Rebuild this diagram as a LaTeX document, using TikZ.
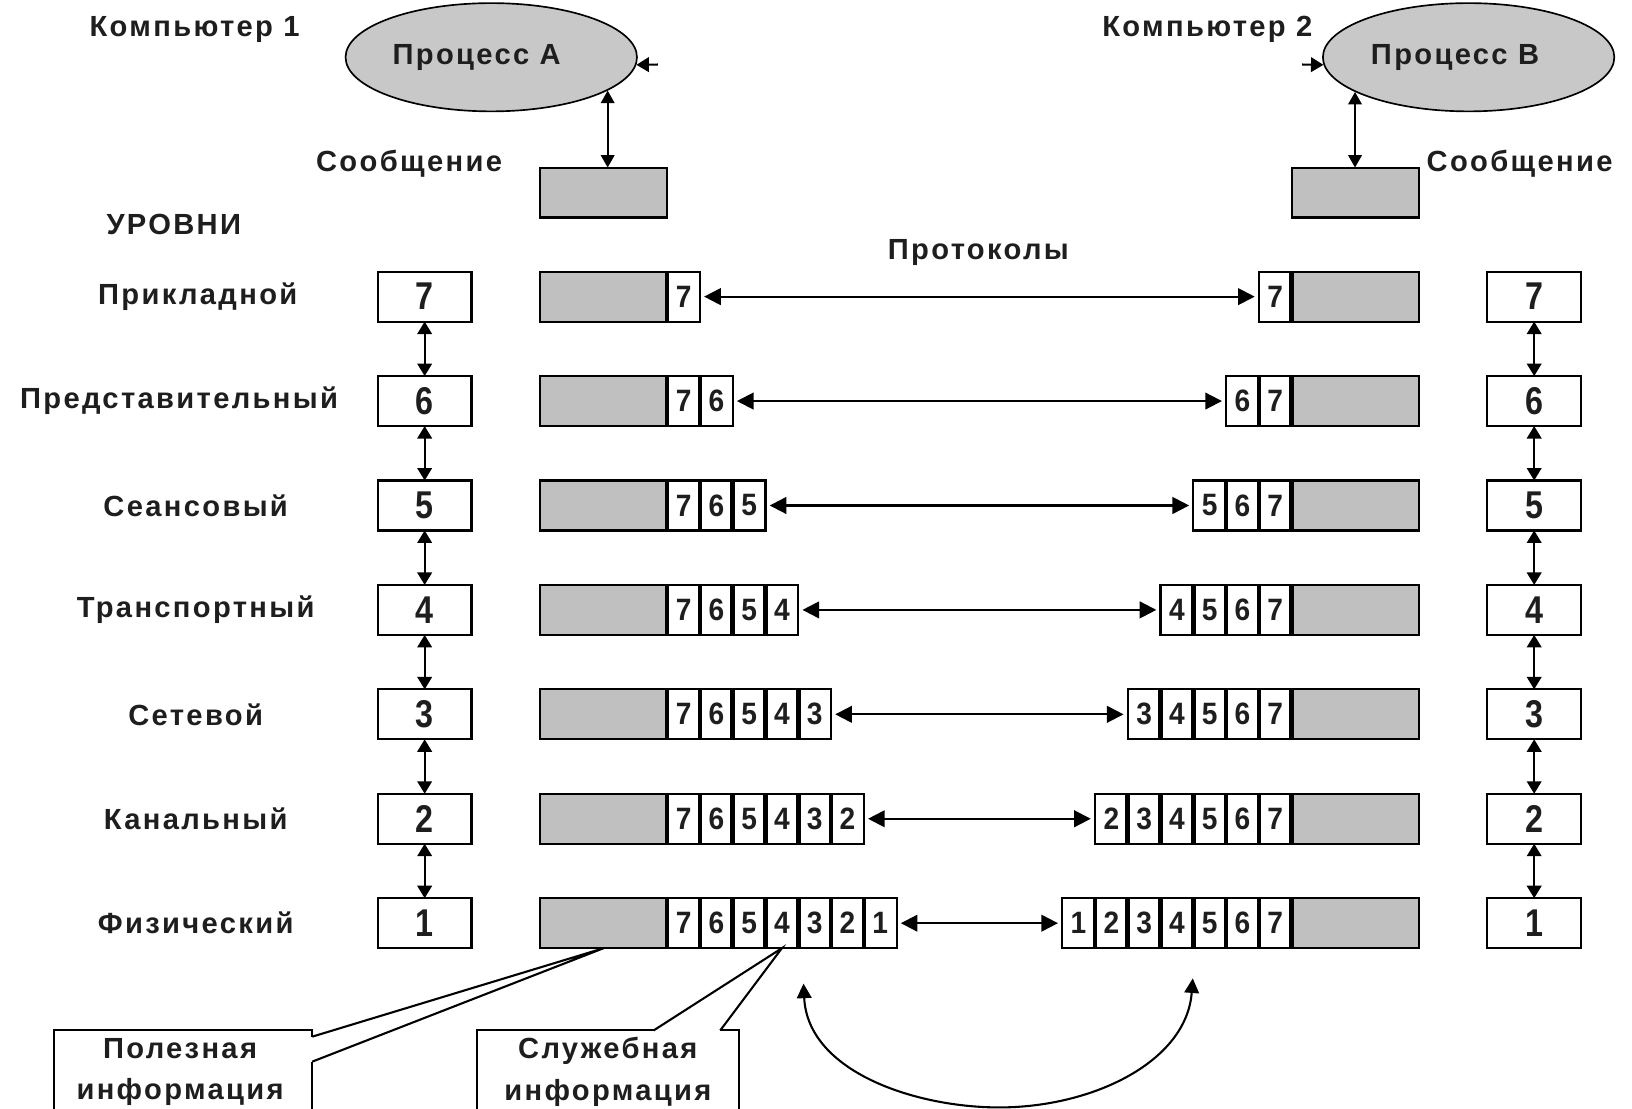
\documentclass[tikz,border=0pt]{standalone}
\usepackage{fontspec}
\usetikzlibrary{arrows.meta,shapes.geometric}
\newfontfamily\myLblFamily{Liberation Sans}[UprightFont={* Bold},LetterSpace=8]
\newfontfamily\myDigFamily{Liberation Sans}[UprightFont={* Bold}]
\newcommand\myLbl{\myLblFamily\fontsize{14pt}{20pt}\selectfont}
\newcommand\myCell{\myDigFamily\fontsize{13.5pt}{14pt}\selectfont}
\newcommand\myBig{\myDigFamily\fontsize{15.5pt}{17pt}\selectfont}
\definecolor{boxgrey}{RGB}{192,192,192}
\definecolor{ellgrey}{RGB}{200,200,200}
\definecolor{txt}{RGB}{30,30,30}
\begin{document}
\begin{tikzpicture}[x=0.5pt,y=-0.5pt,
  lvl/.style={draw,line width=1pt,fill=white,minimum width=45pt,minimum height=24pt,inner sep=0pt,outer sep=0pt,font=\myBig,text=txt},
  cell/.style={draw,line width=1pt,fill=white,minimum width=15.75pt,minimum height=24pt,inner sep=0pt,outer sep=0pt,font=\myCell,text=txt},
  pay/.style={draw,line width=1pt,fill=boxgrey,minimum width=61pt,minimum height=24pt,inner sep=0pt,outer sep=0pt},
  lab/.style={font=\myLbl,text=txt,inner sep=0pt},
  divline/.style={line width=2.2pt},
  parr/.style={line width=1pt,{Triangle[length=8pt,width=8pt]}-{Triangle[length=8pt,width=8pt]},shorten <=2pt,shorten >=2pt},
  varr/.style={line width=1pt,{Triangle[length=6pt,width=7pt]}-{Triangle[length=6pt,width=7pt]}},
  marr/.style={line width=1pt,{Triangle[length=6pt,width=6.5pt]}-{Triangle[length=6pt,width=6.5pt]}},
  stub/.style={line width=1pt,-{Triangle[length=6pt,width=7pt]}},
  proc/.style={ellipse,draw,line width=0.8pt,fill=ellgrey,minimum width=140pt,minimum height=52pt,inner sep=0pt}
]
\fill[white] (0,0) rectangle (1568,1065);
\clip (0,0) rectangle (1568,1065);

% top part
\node[proc] (PA) at (472,55) {};
\node[proc] (PB) at (1411,55) {};
\node[lab] (tPA) at (458,55) {Процесс A};
\node[lab] (tPB) at (1398,55) {Процесс B};
\node[lab] (C1) at (187,28) {Компьютер 1};
\node[lab] (C2) at (1160,28) {Компьютер 2};
\node[pay] (MA) at (580,185) {};
\node[pay] (MB) at (1302,185) {};
\node[lab] (SA) at (393,157) {Сообщение};
\node[lab] (SB) at (1460,157) {Сообщение};
\node[lab] (UR) at (167,216) {УРОВНИ};
\node[lab] (PR) at (940,243) {Протоколы};

\draw[marr] (PA.-16) -- (PA.-16 |- MA.north);
\draw[marr] (PB.197) -- (PB.197 |- MB.north);
\coordinate (sA) at (632,62);
\coordinate (sB) at (1251,62);
\draw[stub] (sA) -- (PA.-3);
\draw[stub] (sB) -- (PB.183);

% level names
\node[lab] (N7) at (190,285) {Прикладной};
\node[lab] (N6) at (172,385.3) {Представительный};
\node[lab] (N5) at (188,485.7) {Сеансовый};
\node[lab] (N4) at (188,586) {Транспортный};
\node[lab] (N3) at (188,686.3) {Сетевой};
\node[lab] (N2) at (188,786.7) {Канальный};
\node[lab] (N1) at (188,887) {Физический};

\foreach \k in {1,...,7}{
  \pgfmathsetmacro\yy{285+(7-\k)*100.33}
  \pgfmathtruncatemacro\n{7-\k}
  \node[lvl] (LA\k) at (408,\yy) {\scalebox{1}[1.2]{\k}};
  \node[lvl] (LB\k) at (1474,\yy) {\scalebox{1}[1.2]{\k}};
  \node[pay] (Lg\k) at (580,\yy) {};
  \node[pay] (Rg\k) at (1302,\yy) {};
  \foreach \j in {0,...,\n}{
    \pgfmathtruncatemacro\lab{7-\j}
    \node[cell] (Lc\k-\j) at ({656.75+31.5*\j},\yy) {\scalebox{1}[1.1]{\lab}};
    \node[cell] (Rc\k-\j) at ({1225.25-31.5*\j},\yy) {\scalebox{1}[1.1]{\lab}};
  }
  \foreach \j in {0,...,\n}{
    \draw[divline] (Lc\k-\j.north west) -- (Lc\k-\j.south west);
    \draw[divline] (Rc\k-\j.north east) -- (Rc\k-\j.south east);
  }
  \draw[parr] (Lc\k-\n.east) -- (Rc\k-\n.west);
}
\foreach \k in {2,...,7}{
  \pgfmathtruncatemacro\km{\k-1}
  \draw[varr] (LA\k.south) -- (LA\km.north);
  \draw[varr] (LB\k.south) -- (LB\km.north);
}

% callouts
\node[lab,align=center] (PI) at (173,1030) {Полезная\\информация};
\node[lab,align=center] (SI) at (584,1030) {Служебная\\информация};
\draw[line width=1pt] (300,996) -- (300,990) -- (52,990) -- (52,1090);
\draw[line width=1pt] (300,1020) -- (300,1090);
\draw[line width=1pt] (300,996) -- (Lg1.south) -- (300,1020);
\draw[line width=1pt] (628,990) -- (458,990) -- (458,1090);
\draw[line width=1pt] (692,990) -- (710,990) -- (710,1090);
\draw[line width=1pt] (628,990) -- (Lc1-3.south) -- (692,990);

% curved arrow
\coordinate (cL) at (772,945);
\coordinate (cR) at (1146,940);
\draw[line width=1pt,{Triangle[length=7pt,width=7pt]}-{Triangle[length=7pt,width=7pt]}]
  (cL) .. controls (776,1030) and (880,1064) .. (960,1064)
       .. controls (1050,1064) and (1140,1020) .. (cR);
\end{tikzpicture}
\end{document}
